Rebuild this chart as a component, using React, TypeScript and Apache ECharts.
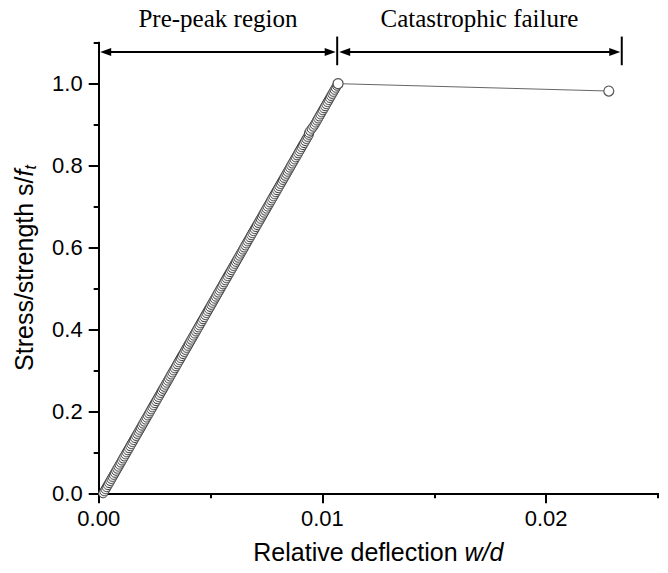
import React, { useEffect, useRef } from "react";
import * as echarts from "echarts";

// Pre-peak measurements (relative deflection w/d, stress/strength s/ft)
const prePeakDeflection = [
  0.000200, 0.000253, 0.000305, 0.000358, 0.000410, 0.000463, 0.000515, 0.000568,
  0.000620, 0.000673, 0.000725, 0.000778, 0.000830, 0.000883, 0.000935, 0.000988,
  0.001040, 0.001093, 0.001145, 0.001198, 0.001250, 0.001303, 0.001355, 0.001408,
  0.001460, 0.001513, 0.001565, 0.001618, 0.001670, 0.001723, 0.001775, 0.001828,
  0.001880, 0.001933, 0.001985, 0.002038, 0.002090, 0.002143, 0.002195, 0.002248,
  0.002300, 0.002353, 0.002405, 0.002458, 0.002510, 0.002563, 0.002615, 0.002668,
  0.002720, 0.002773, 0.002825, 0.002878, 0.002930, 0.002983, 0.003035, 0.003088,
  0.003140, 0.003193, 0.003245, 0.003298, 0.003350, 0.003403, 0.003455, 0.003508,
  0.003560, 0.003613, 0.003665, 0.003718, 0.003770, 0.003823, 0.003875, 0.003928,
  0.003980, 0.004033, 0.004085, 0.004138, 0.004190, 0.004243, 0.004295, 0.004348,
  0.004400, 0.004453, 0.004505, 0.004558, 0.004610, 0.004663, 0.004715, 0.004768,
  0.004820, 0.004873, 0.004925, 0.004978, 0.005030, 0.005083, 0.005135, 0.005188,
  0.005240, 0.005293, 0.005345, 0.005398, 0.005450, 0.005503, 0.005555, 0.005608,
  0.005660, 0.005713, 0.005765, 0.005818, 0.005870, 0.005923, 0.005975, 0.006028,
  0.006080, 0.006133, 0.006185, 0.006238, 0.006290, 0.006343, 0.006395, 0.006448,
  0.006500, 0.006553, 0.006605, 0.006658, 0.006710, 0.006763, 0.006815, 0.006868,
  0.006920, 0.006973, 0.007025, 0.007078, 0.007130, 0.007183, 0.007235, 0.007288,
  0.007340, 0.007393, 0.007445, 0.007498, 0.007550, 0.007603, 0.007655, 0.007708,
  0.007760, 0.007813, 0.007865, 0.007918, 0.007970, 0.008023, 0.008075, 0.008128,
  0.008180, 0.008233, 0.008285, 0.008338, 0.008390, 0.008443, 0.008495, 0.008548,
  0.008600, 0.008653, 0.008705, 0.008758, 0.008810, 0.008863, 0.008915, 0.008968,
  0.009020, 0.009073, 0.009125, 0.009178, 0.009230, 0.009283, 0.009335, 0.009388,
  0.009400, 0.009450, 0.009520, 0.009590, 0.009650, 0.009703, 0.009755, 0.009808,
  0.009860, 0.009913, 0.009965, 0.010018, 0.010070, 0.010123, 0.010175, 0.010228,
  0.010280, 0.010333, 0.010385, 0.010438, 0.010490, 0.010543, 0.010595, 0.010648,
  0.010700,
];
const prePeakStress = [
  0.000, 0.005, 0.010, 0.015, 0.020, 0.025, 0.030, 0.035, 0.040, 0.045,
  0.050, 0.055, 0.060, 0.065, 0.070, 0.075, 0.080, 0.085, 0.090, 0.095,
  0.100, 0.105, 0.110, 0.115, 0.120, 0.125, 0.130, 0.135, 0.140, 0.145,
  0.150, 0.155, 0.160, 0.165, 0.170, 0.175, 0.180, 0.185, 0.190, 0.195,
  0.200, 0.205, 0.210, 0.215, 0.220, 0.225, 0.230, 0.235, 0.240, 0.245,
  0.250, 0.255, 0.260, 0.265, 0.270, 0.275, 0.280, 0.285, 0.290, 0.295,
  0.300, 0.305, 0.310, 0.315, 0.320, 0.325, 0.330, 0.335, 0.340, 0.345,
  0.350, 0.355, 0.360, 0.365, 0.370, 0.375, 0.380, 0.385, 0.390, 0.395,
  0.400, 0.405, 0.410, 0.415, 0.420, 0.425, 0.430, 0.435, 0.440, 0.445,
  0.450, 0.455, 0.460, 0.465, 0.470, 0.475, 0.480, 0.485, 0.490, 0.495,
  0.500, 0.505, 0.510, 0.515, 0.520, 0.525, 0.530, 0.535, 0.540, 0.545,
  0.550, 0.555, 0.560, 0.565, 0.570, 0.575, 0.580, 0.585, 0.590, 0.595,
  0.600, 0.605, 0.610, 0.615, 0.620, 0.625, 0.630, 0.635, 0.640, 0.645,
  0.650, 0.655, 0.660, 0.665, 0.670, 0.675, 0.680, 0.685, 0.690, 0.695,
  0.700, 0.705, 0.710, 0.715, 0.720, 0.725, 0.730, 0.735, 0.740, 0.745,
  0.750, 0.755, 0.760, 0.765, 0.770, 0.775, 0.780, 0.785, 0.790, 0.795,
  0.800, 0.805, 0.810, 0.815, 0.820, 0.825, 0.830, 0.835, 0.840, 0.845,
  0.850, 0.855, 0.860, 0.865, 0.870, 0.875, 0.880, 0.885, 0.890, 0.895,
  0.900, 0.905, 0.910, 0.915, 0.920, 0.925, 0.930, 0.935, 0.940, 0.945,
  0.950, 0.955, 0.960, 0.965, 0.970, 0.975, 0.980, 0.985, 0.990, 0.995,
  1.000,
];

// Post-peak (catastrophic failure) points
const postPeakDeflection = [0.0107, 0.0228];
const postPeakStress = [1.0, 0.982];

// Axis ticks
const xMajorTicks = [0, 0.01, 0.02];
const xMinorTicks = [0.005, 0.015, 0.025];
const yMajorTicks = [0, 0.2, 0.4, 0.6, 0.8, 1.0];
const yMinorTicks = [0.1, 0.3, 0.5, 0.7, 0.9, 1.1];

// Region annotation
const regionEdges = [0, 0.01066, 0.02338];
const regionLabels = ["Pre-peak region", "Catastrophic failure"];
const arrowLevel = 1.077;
const barTop = 1.115;
const barBottom = 1.045;

const SANS = "'Liberation Sans', Arial, sans-serif";
const SERIF = "'Liberation Serif', 'Times New Roman', serif";

export default function App() {
  const ref = useRef<HTMLDivElement>(null);

  useEffect(() => {
    if (!ref.current) return;
    const chart = echarts.init(ref.current, null, { renderer: "svg" });

    const axisLine = { show: true, lineStyle: { color: "#000", width: 2 } };
    const commonX = { type: "value", min: 0, max: 0.025, gridIndex: 0, position: "bottom", splitLine: { show: false } };
    const commonY = { type: "value", min: 0, max: 1.1, gridIndex: 0, position: "left", splitLine: { show: false } };

    chart.setOption({
      animation: false,
      backgroundColor: "#fff",
      grid: { left: 98.7, right: 10, top: 42.7, bottom: 79.7, containLabel: false },
      xAxis: [
        {
          ...commonX,
          interval: 0.01,
          axisLine,
          axisTick: { show: true, customValues: xMajorTicks, length: 10, lineStyle: { color: "#000", width: 2 } },
          axisLabel: {
            customValues: xMajorTicks,
            formatter: (v: number) => v.toFixed(2),
            color: "#000",
            fontFamily: SANS,
            fontSize: 22,
            margin: 14,
          },
          name: "{n|Relative deflection }{i|w/d}",
          nameLocation: "middle",
          nameGap: 46,
          nameTextStyle: {
            rich: {
              n: { fontFamily: SANS, fontSize: 25, color: "#000" },
              i: { fontFamily: SANS, fontSize: 25, color: "#000", fontStyle: "italic" },
            },
          },
        },
        {
          ...commonX,
          axisLine,
          axisTick: { show: true, customValues: xMinorTicks, length: 5, lineStyle: { color: "#000", width: 2 } },
          axisLabel: { show: false },
        },
      ],
      yAxis: [
        {
          ...commonY,
          interval: 0.2,
          axisLine,
          axisTick: { show: true, customValues: yMajorTicks, length: 10, lineStyle: { color: "#000", width: 2 } },
          axisLabel: {
            customValues: yMajorTicks,
            formatter: (v: number) => v.toFixed(1),
            color: "#000",
            fontFamily: SANS,
            fontSize: 22,
            margin: 16,
          },
          name: "{n|Stress/strength s/}{i|f}{s|t}",
          nameLocation: "middle",
          nameRotate: 90,
          nameGap: 60,
          nameTextStyle: {
            rich: {
              n: { fontFamily: SANS, fontSize: 25, color: "#000", lineHeight: 30 },
              i: { fontFamily: SANS, fontSize: 25, color: "#000", fontStyle: "italic", lineHeight: 30 },
              s: { fontFamily: SANS, fontSize: 16, color: "#000", fontStyle: "italic", verticalAlign: "bottom", lineHeight: 18 },
            },
          },
        },
        {
          ...commonY,
          axisLine,
          axisTick: { show: true, customValues: yMinorTicks, length: 5, lineStyle: { color: "#000", width: 2 } },
          axisLabel: { show: false },
        },
      ],
      series: [
        {
          type: "scatter",
          xAxisIndex: 0,
          yAxisIndex: 0,
          data: prePeakDeflection.map((x, i) => [x, prePeakStress[i]]),
          symbol: "circle",
          symbolSize: 9,
          itemStyle: { color: "#f4f4f4", borderColor: "#3c3c3c", borderWidth: 1, opacity: 1 },
          z: 3,
        },
        {
          type: "line",
          xAxisIndex: 0,
          yAxisIndex: 0,
          data: postPeakDeflection.map((x, i) => [x, postPeakStress[i]]),
          symbol: "circle",
          symbolSize: 10,
          showAllSymbol: true,
          lineStyle: { color: "#666", width: 1 },
          itemStyle: { color: "#fff", borderColor: "#555", borderWidth: 1.2 },
          z: 4,
        },
      ],
    });

    const px = (x: number, y: number) =>
      chart.convertToPixel({ gridIndex: 0 }, [x, y]) as number[];

    const graphics: any[] = [];
    const ay = px(0, arrowLevel)[1];
    const yTop = px(0, barTop)[1];
    const yBot = px(0, barBottom)[1];
    const stroke = { stroke: "#000", lineWidth: 2 };
    const headLen = 11;
    const headHalf = 4;
    for (let r = 0; r < regionLabels.length; r++) {
      const x0 = px(regionEdges[r], 0)[0] + (r === 0 ? 1.5 : 2);
      const x1 = px(regionEdges[r + 1], 0)[0] - 1.5;
      graphics.push({ type: "line", shape: { x1: x0 + 4, y1: ay, x2: x1 - 4, y2: ay }, style: stroke, z: 10 });
      graphics.push({
        type: "polygon",
        shape: { points: [[x0, ay], [x0 + headLen, ay - headHalf], [x0 + headLen, ay + headHalf]] },
        style: { fill: "#000" },
        z: 10,
      });
      graphics.push({
        type: "polygon",
        shape: { points: [[x1, ay], [x1 - headLen, ay - headHalf], [x1 - headLen, ay + headHalf]] },
        style: { fill: "#000" },
        z: 10,
      });
      const mid = (regionEdges[r] + regionEdges[r + 1]) / 2;
      graphics.push({
        type: "text",
        x: px(mid, 0)[0],
        y: ay - 34,
        style: {
          text: regionLabels[r],
          fill: "#000",
          font: `25px ${SERIF}`,
          textAlign: "center",
          textVerticalAlign: "middle",
        },
        z: 10,
      });
    }
    for (let e = 1; e < regionEdges.length; e++) {
      const bx = px(regionEdges[e], 0)[0];
      graphics.push({ type: "line", shape: { x1: bx, y1: yTop, x2: bx, y2: yBot }, style: stroke, z: 10 });
    }
    chart.setOption({ graphic: graphics });

    return () => chart.dispose();
  }, []);

  return (
    <div
      ref={ref}
      style={{ position: "fixed", left: 0, top: 0, width: 668, height: 573, background: "#fff" }}
    />
  );
}
